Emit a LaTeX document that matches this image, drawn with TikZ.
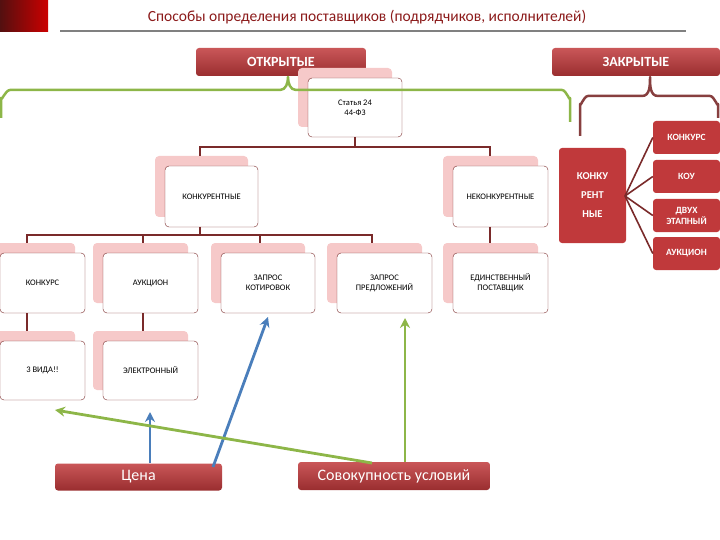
\documentclass[tikz,border=0pt]{standalone}
\usepackage{fontspec}
\setmainfont{Carlito}
\usetikzlibrary{arrows.meta}
\definecolor{dred}{HTML}{8B1A1A}
\definecolor{bred}{HTML}{C0393B}
\definecolor{pinksh}{HTML}{F6C9C9}
\definecolor{brn}{HTML}{7A2A2A}
\definecolor{grn}{HTML}{8DB648}
\definecolor{blu}{HTML}{4A7EBB}
\tikzset{
 wbox/.style={draw=brn,fill=white,rounded corners=4pt,align=center,font=\fontsize{8.5}{10}\selectfont,inner sep=1pt},
 rbox/.style={fill=bred,rounded corners=3pt,align=center,text=white,font=\bfseries\fontsize{9.5}{11}\selectfont,inner sep=1pt},
 hbox/.style={top color=bred!85!white,bottom color=bred!80!black,rounded corners=3pt,text=white,font=\bfseries\fontsize{14}{16}\selectfont,inner sep=1pt},
 tline/.style={brn,line width=1.2pt},
 arr/.style={line width=2.8pt,-{Stealth[length=10pt,width=10pt]}}
}
\newcommand{\wb}[6]{% name x1 y1 x2 y2 text
 \fill[pinksh,rounded corners=4pt] (#2-10,#3-10) rectangle (#4-10,#5-10);
 \node[wbox,minimum width=#4-#2,minimum height=#5-#3] (#1) at ({(#2+#4)/2},{(#3+#5)/2}) {#6};}
\begin{document}
\begin{tikzpicture}[x=1pt,y=-1pt]
\useasboundingbox (0,0) rectangle (720,540);
\fill[left color=dred!60!black,right color=red!80!black] (0,0) rectangle (48,32);
\node[text=dred,font=\fontsize{15.5}{18}\selectfont] (title) at (367,17) {Способы определения поставщиков (подрядчиков, исполнителей)};
\draw[gray,line width=2pt] (60,31) -- (686,31);
\node[hbox,minimum width=170pt,minimum height=28pt] (open) at (281,62) {ОТКРЫТЫЕ};
\node[hbox,minimum width=168pt,minimum height=28pt] (closed) at (636,62) {ЗАКРЫТЫЕ};
\wb{st}{308}{78}{402}{137}{Статья 24\\44-ФЗ}
% braces
\draw[grn,line width=2.5pt,line join=round] (1,118) -- (1,98) to[out=-90,in=180] (10,90) -- (280,90) to[out=0,in=-90] (288,77) to[out=-90,in=180] (296,90) -- (562,90) to[out=0,in=-90] (570,98) -- (570,122);
\draw[brn!90,line width=2.5pt,line join=round] (580,136) -- (580,104) to[out=-90,in=180] (588,96) -- (642,96) to[out=0,in=-90] (650,77) to[out=-90,in=180] (658,96) -- (710,96) to[out=0,in=-90] (718,104) -- (718,118);
% level 2
\wb{kon}{165}{166}{258}{227}{КОНКУРЕНТНЫЕ}
\wb{nekon}{453}{166}{548}{227}{НЕКОНКУРЕНТНЫЕ}
\draw[tline] (st.south) -- (355,147) -- (200,147) -- (200,156);
\draw[tline] (355,147) -- (490,147) -- (490,156);
% level 3
\wb{k3}{0}{253}{85}{313}{КОНКУРС}
\wb{a3}{103}{253}{198}{313}{АУКЦИОН}
\wb{zk}{221}{253}{315}{313}{ЗАПРОС\\КОТИРОВОК}
\wb{zp}{337}{253}{432}{313}{ЗАПРОС\\ПРЕДЛОЖЕНИЙ}
\wb{ed}{453}{253}{548}{313}{ЕДИНСТВЕННЫЙ\\ПОСТАВЩИК}
\draw[tline] (200,227) -- (200,235);
\draw[tline] (27,243) -- (27,235) -- (372,235) -- (372,243);
\draw[tline] (143,235) -- (143,243);
\draw[tline] (260,235) -- (260,243);
\draw[tline] (490,227) -- (490,243);
% level 4
\wb{v3}{0}{341}{85}{400}{3 ВИДА!!}
\wb{el}{103}{341}{198}{400}{ЭЛЕКТРОННЫЙ}
\draw[tline] (27,313) -- (27,331);
\draw[tline] (143,313) -- (143,331);
% closed side
\node[rbox,minimum width=67pt,minimum height=95pt,font=\bfseries\fontsize{10.5}{19}\selectfont] (ck) at (592.5,195.5) {КОНКУ\\РЕНТ\\НЫЕ};
\node[rbox,minimum width=67pt,minimum height=33pt] (r1) at (686.5,137.5) {КОНКУРС};
\node[rbox,minimum width=67pt,minimum height=33pt] (r2) at (686.5,176.5) {КОУ};
\node[rbox,minimum width=67pt,minimum height=33pt] (r3) at (686.5,215.5) {ДВУХ\\ЭТАПНЫЙ};
\node[rbox,minimum width=67pt,minimum height=33pt] (r4) at (686.5,253.5) {АУКЦИОН};
\coordinate (hub) at (625,196);
\foreach \r in {r1,r2,r3,r4} \draw[brn,line width=1.6pt] (hub) -- (\r.west);
% bottom
\node[hbox,minimum width=167pt,minimum height=27pt,font=\fontsize{16}{18}\selectfont] (cena) at (138.5,477) {Цена};
\node[hbox,minimum width=192pt,minimum height=28pt,font=\fontsize{16}{18}\selectfont] (sov) at (394,476) {Совокупность условий};
\draw[arr,blu] (150,463) -- (150,412);
\draw[arr,blu] (213,467) -- (268,317);
\draw[arr,grn] (405,462) -- (405,318);
\draw[arr,grn] (372,463) -- (55,410);
\end{tikzpicture}
\end{document}
